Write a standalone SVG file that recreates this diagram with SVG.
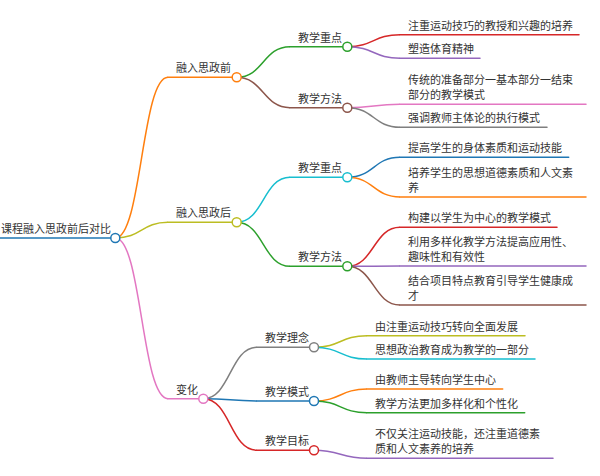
<svg xmlns="http://www.w3.org/2000/svg" width="600" height="476" viewBox="0 0 600 476">
<style>
text{font-family:"Noto Sans CJK SC","Noto Sans",sans-serif;font-size:11px;fill:#333}
.ln{fill:none;stroke-width:1.5;stroke-linecap:round}
.lk{fill:none;stroke-width:1.5}
circle{fill:#fff;stroke-width:1.5}
</style>
<rect width="600" height="476" fill="#fff"/>
<g id="connectors">
<path class="lk" stroke="#ff7f0e" d="M115.3,238 C141.6,238 141.6,77.3 168,77.3"/>
<path class="lk" stroke="#bcbd22" d="M115.3,238 C141.6,238 141.6,222.3 168,222.3"/>
<path class="lk" stroke="#e377c2" d="M115.3,238 C141.6,238 141.6,398.7 168,398.7"/>
<path class="lk" stroke="#2ca02c" d="M236.7,77.3 C263.3,77.3 263.3,46.7 290,46.7"/>
<path class="lk" stroke="#8c564b" d="M236.7,77.3 C263.3,77.3 263.3,107.7 290,107.7"/>
<path class="lk" stroke="#17becf" d="M236.7,222.3 C263.3,222.3 263.3,177.3 290,177.3"/>
<path class="lk" stroke="#2ca02c" d="M236.7,222.3 C263.3,222.3 263.3,266.3 290,266.3"/>
<path class="lk" stroke="#7f7f7f" d="M203.3,398.7 C230.2,398.7 230.2,347.3 257,347.3"/>
<path class="lk" stroke="#1f77b4" d="M203.3,398.7 C230.2,398.7 230.2,401 257,401"/>
<path class="lk" stroke="#d62728" d="M203.3,398.7 C230.2,398.7 230.2,450.3 257,450.3"/>
<path class="lk" stroke="#d62728" d="M347.3,46.7 C373.7,46.7 373.7,34.7 400,34.7"/>
<path class="lk" stroke="#9467bd" d="M347.3,46.7 C373.7,46.7 373.7,58.3 400,58.3"/>
<path class="lk" stroke="#e377c2" d="M347.3,107.7 C373.7,107.7 373.7,104.3 400,104.3"/>
<path class="lk" stroke="#7f7f7f" d="M347.3,107.7 C373.7,107.7 373.7,127.3 400,127.3"/>
<path class="lk" stroke="#1f77b4" d="M347.3,177.3 C373.7,177.3 373.7,157.3 400,157.3"/>
<path class="lk" stroke="#ff7f0e" d="M347.3,177.3 C373.7,177.3 373.7,197 400,197"/>
<path class="lk" stroke="#d62728" d="M347.3,266.3 C373.7,266.3 373.7,227.3 400,227.3"/>
<path class="lk" stroke="#9467bd" d="M347.3,266.3 C373.7,266.3 373.7,266 400,266"/>
<path class="lk" stroke="#8c564b" d="M347.3,266.3 C373.7,266.3 373.7,305 400,305"/>
<path class="lk" stroke="#bcbd22" d="M314,347.3 C340.5,347.3 340.5,335.7 367,335.7"/>
<path class="lk" stroke="#17becf" d="M314,347.3 C340.5,347.3 340.5,359 367,359"/>
<path class="lk" stroke="#ff7f0e" d="M314,401 C340.5,401 340.5,389 367,389"/>
<path class="lk" stroke="#2ca02c" d="M314,401 C340.5,401 340.5,412.7 367,412.7"/>
<path class="lk" stroke="#9467bd" d="M314,450.3 C340.5,450.3 340.5,458.3 367,458.3"/>
</g>
<g id="root"><path class="ln" stroke="#1f77b4" d="M0,238H115.3"/><text x="1" y="233">课程融入思政前后对比</text><circle cx="115.3" cy="238" r="4.5" stroke="#1f77b4"/></g>
<g id="n-before"><path class="ln" stroke="#ff7f0e" d="M168,77.3H236.7"/><text x="176" y="72.3">融入思政前</text><circle cx="236.7" cy="77.3" r="4.5" stroke="#ff7f0e"/></g>
<g id="n-after"><path class="ln" stroke="#bcbd22" d="M168,222.3H236.7"/><text x="176" y="217.3">融入思政后</text><circle cx="236.7" cy="222.3" r="4.5" stroke="#bcbd22"/></g>
<g id="n-change"><path class="ln" stroke="#e377c2" d="M168,398.7H203.3"/><text x="176" y="393.7">变化</text><circle cx="203.3" cy="398.7" r="4.5" stroke="#e377c2"/></g>
<g id="n-b-focus"><path class="ln" stroke="#2ca02c" d="M290,46.7H347.3"/><text x="298" y="41.7">教学重点</text><circle cx="347.3" cy="46.7" r="4.5" stroke="#2ca02c"/></g>
<g id="n-b-method"><path class="ln" stroke="#8c564b" d="M290,107.7H347.3"/><text x="298" y="102.7">教学方法</text><circle cx="347.3" cy="107.7" r="4.5" stroke="#8c564b"/></g>
<g id="n-a-focus"><path class="ln" stroke="#17becf" d="M290,177.3H347.3"/><text x="298" y="172.3">教学重点</text><circle cx="347.3" cy="177.3" r="4.5" stroke="#17becf"/></g>
<g id="n-a-method"><path class="ln" stroke="#2ca02c" d="M290,266.3H347.3"/><text x="298" y="261.3">教学方法</text><circle cx="347.3" cy="266.3" r="4.5" stroke="#2ca02c"/></g>
<g id="n-c-idea"><path class="ln" stroke="#7f7f7f" d="M257,347.3H314"/><text x="265" y="342.3">教学理念</text><circle cx="314" cy="347.3" r="4.5" stroke="#7f7f7f"/></g>
<g id="n-c-mode"><path class="ln" stroke="#1f77b4" d="M257,401H314"/><text x="265" y="396">教学模式</text><circle cx="314" cy="401" r="4.5" stroke="#1f77b4"/></g>
<g id="n-c-goal"><path class="ln" stroke="#d62728" d="M257,450.3H314"/><text x="265" y="445.3">教学目标</text><circle cx="314" cy="450.3" r="4.5" stroke="#d62728"/></g>
<g id="l1"><path class="ln" stroke="#d62728" d="M400,34.7H579"/><text x="408" y="29.7">注重运动技巧的教授和兴趣的培养</text></g>
<g id="l2"><path class="ln" stroke="#9467bd" d="M400,58.3H480"/><text x="408" y="53.3">塑造体育精神</text></g>
<g id="l3"><path class="ln" stroke="#e377c2" d="M400,104.3H586"/><text x="408" y="84.3">传统的准备部分一基本部分一结束</text><text x="408" y="99.3">部分的教学模式</text></g>
<g id="l4"><path class="ln" stroke="#7f7f7f" d="M400,127.3H547"/><text x="408" y="122.3">强调教师主体论的执行模式</text></g>
<g id="l5"><path class="ln" stroke="#1f77b4" d="M400,157.3H568.7"/><text x="408" y="152.3">提高学生的身体素质和运动技能</text></g>
<g id="l6"><path class="ln" stroke="#ff7f0e" d="M400,197H586"/><text x="408" y="177">培养学生的思想道德素质和人文素</text><text x="408" y="192">养</text></g>
<g id="l7"><path class="ln" stroke="#d62728" d="M400,227.3H557"/><text x="408" y="222.3">构建以学生为中心的教学模式</text></g>
<g id="l8"><path class="ln" stroke="#9467bd" d="M400,266H586"/><text x="408" y="246">利用多样化教学方法提高应用性、</text><text x="408" y="261">趣味性和有效性</text></g>
<g id="l9"><path class="ln" stroke="#8c564b" d="M400,305H586"/><text x="408" y="285">结合项目特点教育引导学生健康成</text><text x="408" y="300">才</text></g>
<g id="l10"><path class="ln" stroke="#bcbd22" d="M367,335.7H525"/><text x="375" y="330.7">由注重运动技巧转向全面发展</text></g>
<g id="l11"><path class="ln" stroke="#17becf" d="M367,359H535"/><text x="375" y="354">思想政治教育成为教学的一部分</text></g>
<g id="l12"><path class="ln" stroke="#ff7f0e" d="M367,389H502.7"/><text x="375" y="384">由教师主导转向学生中心</text></g>
<g id="l13"><path class="ln" stroke="#2ca02c" d="M367,412.7H524.7"/><text x="375" y="407.7">教学方法更加多样化和个性化</text></g>
<g id="l14"><path class="ln" stroke="#9467bd" d="M367,458.3H553"/><text x="375" y="438.3">不仅关注运动技能，还注重道德素</text><text x="375" y="453.3">质和人文素养的培养</text></g>
</svg>
